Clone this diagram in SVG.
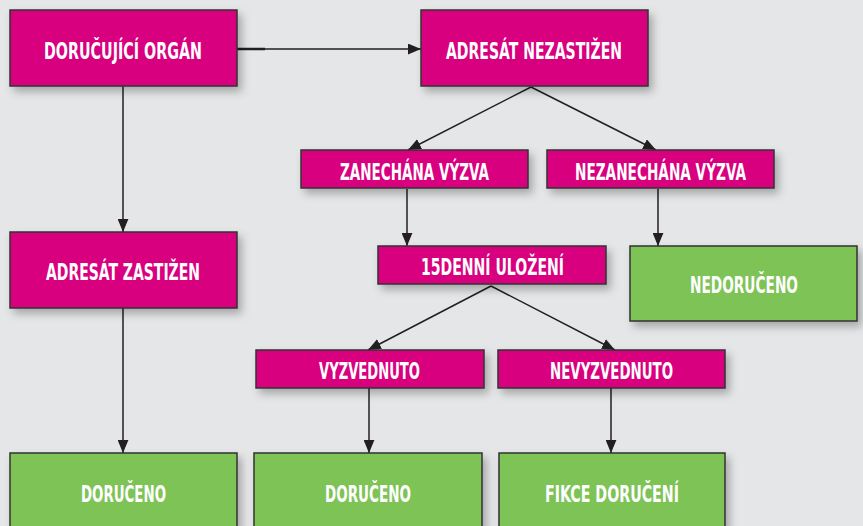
<svg xmlns="http://www.w3.org/2000/svg" width="863" height="526" viewBox="0 0 863 526">
<defs>
<filter id="sh" x="-10%" y="-20%" width="130%" height="160%">
<feDropShadow dx="4" dy="5" stdDeviation="4" flood-color="#000" flood-opacity="0.28"/>
</filter>
<marker id="ah" viewBox="0 0 12 10" refX="12" refY="5" markerWidth="13" markerHeight="11" markerUnits="userSpaceOnUse" orient="auto">
<path d="M0,0 L12,5 L0,10 Z" fill="#231f20"/>
</marker>
<style>
.m{fill:#d8007f;stroke:#333;stroke-width:1.5;filter:url(#sh)}
.g{fill:#7ec356;stroke:#333;stroke-width:1.5;filter:url(#sh)}
.t{fill:#fff;font-family:"DejaVu Sans Condensed","DejaVu Sans",sans-serif;font-weight:bold;font-stretch:condensed;font-size:23px}
.c{stroke:#231f20;stroke-width:1.5;fill:none;marker-end:url(#ah)}
</style>
</defs>
<rect width="863" height="526" fill="#e5e6e8"/>
<g id="connectors">
<line x1="237" y1="49" x2="265" y2="49" stroke="#231f20" stroke-width="2.5"/>
<line class="c" x1="237" y1="49" x2="421" y2="49"/>
<line class="c" x1="123" y1="86" x2="123" y2="232"/>
<line class="c" x1="123" y1="308" x2="123" y2="453"/>
<line class="c" x1="531" y1="87" x2="408" y2="150"/>
<line class="c" x1="531" y1="87" x2="656" y2="150"/>
<line class="c" x1="407" y1="189" x2="407" y2="246"/>
<line class="c" x1="658" y1="189" x2="658" y2="246"/>
<line class="c" x1="491" y1="286" x2="368" y2="350"/>
<line class="c" x1="491" y1="286" x2="615" y2="350"/>
<line class="c" x1="369" y1="388" x2="369" y2="453"/>
<line class="c" x1="611" y1="388" x2="611" y2="453"/>
</g>
<g id="n1"><rect class="m" x="10" y="10" width="227" height="76"/><text class="t" x="44" y="59" textLength="158" lengthAdjust="spacingAndGlyphs">DORUČUJÍCÍ ORGÁN</text></g>
<g id="n2"><rect class="m" x="421" y="10" width="227" height="76"/><text class="t" x="446" y="59" textLength="176" lengthAdjust="spacingAndGlyphs">ADRESÁT NEZASTIŽEN</text></g>
<g id="n3"><rect class="m" x="301" y="150" width="227" height="38"/><text class="t" x="340" y="180" textLength="149" lengthAdjust="spacingAndGlyphs">ZANECHÁNA VÝZVA</text></g>
<g id="n4"><rect class="m" x="547" y="150" width="227" height="38"/><text class="t" x="575" y="180" textLength="171" lengthAdjust="spacingAndGlyphs">NEZANECHÁNA VÝZVA</text></g>
<g id="n5"><rect class="m" x="378" y="246" width="228" height="38"/><text class="t" x="421" y="275" textLength="143" lengthAdjust="spacingAndGlyphs">15DENNÍ ULOŽENÍ</text></g>
<g id="n6"><rect class="g" x="630" y="246" width="227" height="75"/><text class="t" x="690" y="293" textLength="108" lengthAdjust="spacingAndGlyphs">NEDORUČENO</text></g>
<g id="n7"><rect class="m" x="10" y="232" width="227" height="76"/><text class="t" x="46" y="280" textLength="154" lengthAdjust="spacingAndGlyphs">ADRESÁT ZASTIŽEN</text></g>
<g id="n8"><rect class="m" x="256" y="350" width="228" height="38"/><text class="t" x="319" y="379" textLength="101" lengthAdjust="spacingAndGlyphs">VYZVEDNUTO</text></g>
<g id="n9"><rect class="m" x="498" y="350" width="227" height="38"/><text class="t" x="550" y="379" textLength="123" lengthAdjust="spacingAndGlyphs">NEVYZVEDNUTO</text></g>
<g id="n10"><rect class="g" x="10" y="453" width="227" height="80"/><text class="t" x="81" y="502" textLength="85" lengthAdjust="spacingAndGlyphs">DORUČENO</text></g>
<g id="n11"><rect class="g" x="254" y="453" width="228" height="80"/><text class="t" x="325" y="502" textLength="86" lengthAdjust="spacingAndGlyphs">DORUČENO</text></g>
<g id="n12"><rect class="g" x="499" y="453" width="226" height="80"/><text class="t" x="545" y="502" textLength="134" lengthAdjust="spacingAndGlyphs">FIKCE DORUČENÍ</text></g>
</svg>
